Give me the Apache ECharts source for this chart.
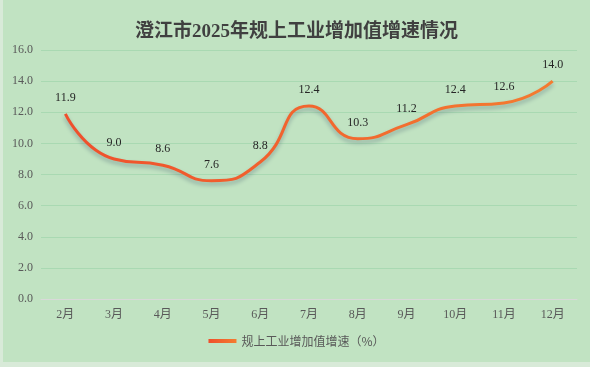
<!DOCTYPE html>
<html><head><meta charset="utf-8">
<script src="https://cdn.jsdelivr.net/npm/echarts@6/dist/echarts.min.js"></script>
<style>
html,body{margin:0;padding:0;background:#d8ead8;}
#c{position:absolute;left:3px;top:0;width:587px;height:362px;background:#c1e3c2;}
</style></head>
<body><div id="c"></div>
<script>
const titleText = '澄江市2025年规上工业增加值增速情况';
const seriesName = '规上工业增加值增速（%）';
const categories = ['2月','3月','4月','5月','6月','7月','8月','9月','10月','11月','12月'];
const values = [11.9, 9.0, 8.6, 7.6, 8.8, 12.4, 10.3, 11.2, 12.4, 12.6, 14.0];
const yMin = 0, yMax = 16, yStep = 2;

const chart = echarts.init(document.getElementById('c'));
const grad = new echarts.graphic.LinearGradient(0,0,1,0,[{offset:0,color:'#ef4f2c'},{offset:1,color:'#f47c30'}]);
chart.setOption({
  backgroundColor: '#c1e3c2',
  animation: false,
  title: {
    text: titleText, left: 'center', top: 18,
    textStyle: {fontFamily: '"Liberation Serif","Noto Sans CJK SC",serif', fontSize: 19, fontWeight: 'bold', color: '#404040'}
  },
  grid: {left: 38, right: 13, top: 50, bottom: 63},
  xAxis: {
    type: 'category', data: categories, boundaryGap: true,
    axisLine: {lineStyle: {color: '#d9d9d9', width: 1}},
    axisTick: {show: false},
    axisLabel: {color: '#595959', fontSize: 12, margin: 10, fontFamily: '"Liberation Serif","Noto Sans CJK SC",serif'}
  },
  yAxis: {
    type: 'value', min: yMin, max: yMax, interval: yStep,
    axisLine: {show: false}, axisTick: {show: false},
    splitLine: {lineStyle: {color: '#a9d9b2', width: 1}},
    axisLabel: {color: '#595959', fontSize: 12, margin: 8, fontFamily: '"Liberation Serif",serif',
      formatter: v => v.toFixed(1)}
  },
  legend: {
    bottom: 10, left: 'center', itemWidth: 28, itemHeight: 4, itemGap: 6,
    icon: 'rect',
    textStyle: {color: '#595959', fontSize: 12, fontFamily: '"Noto Sans CJK SC",sans-serif'},
    data: [{name: seriesName, itemStyle: {color: grad, opacity: 1}}]
  },
  series: [{
    name: seriesName, type: 'line', data: values, smooth: 0.55,
    symbol: 'circle', symbolSize: 0, showSymbol: true,
    lineStyle: {color: grad, width: 3, shadowColor: 'rgba(40,60,90,0.35)', shadowBlur: 4, shadowOffsetY: 3},
    itemStyle: {color: grad},
    label: {show: true, position: 'top', distance: 10, color: '#262626', fontSize: 12,
      fontFamily: '"Liberation Serif",serif', formatter: p => p.value.toFixed(1)}
  }]
});
</script></body></html>
